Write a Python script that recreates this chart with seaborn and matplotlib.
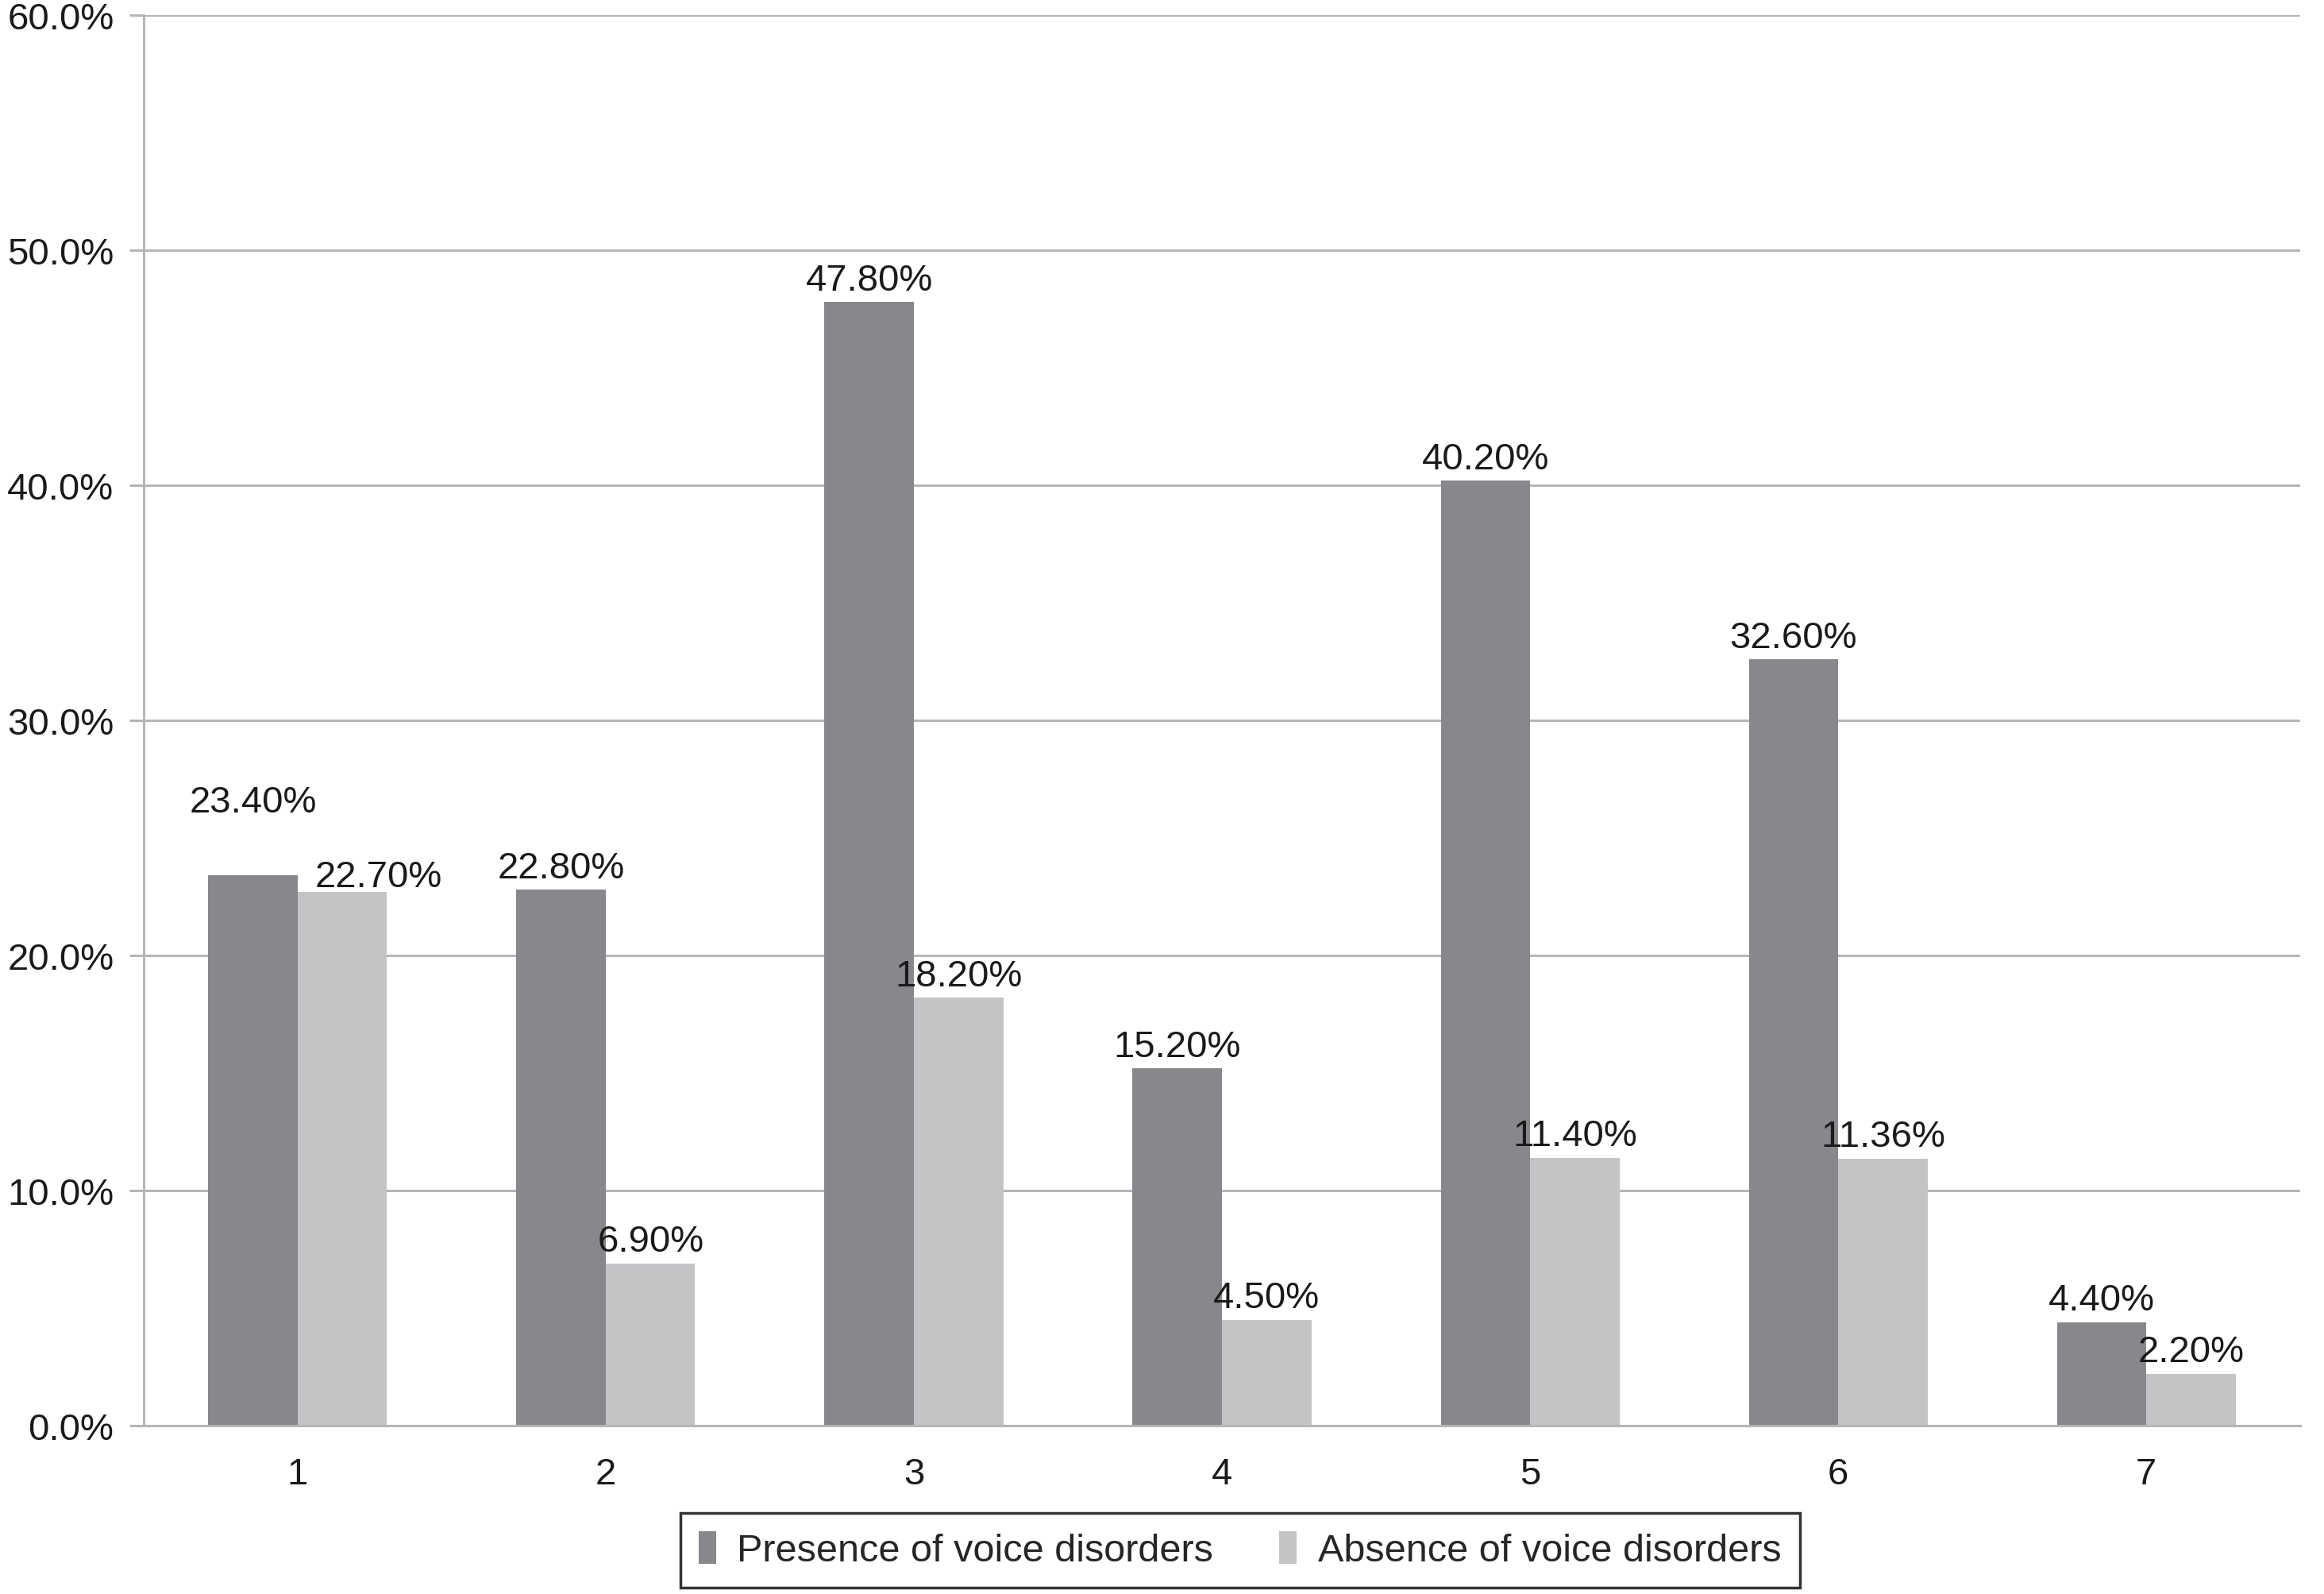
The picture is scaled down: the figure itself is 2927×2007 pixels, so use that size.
import numpy as np
import pandas as pd
import seaborn as sns
import matplotlib.pyplot as plt
from matplotlib.patches import Patch
from matplotlib.ticker import FuncFormatter

groups = ['1', '2', '3', '4', '5', '6', '7']
presence = [23.40, 22.80, 47.80, 15.20, 40.20, 32.60, 4.40]
absence = [22.70, 6.90, 18.20, 4.50, 11.40, 11.36, 2.20]
series_names = ['Presence of voice disorders', 'Absence of voice disorders']
y_ticks = [0, 10, 20, 30, 40, 50, 60]

dark = '#87888c'
light = '#c3c4c6'
grid_grey = '#b4b6b8'

df = pd.DataFrame({
    'group': groups * 2,
    'value': presence + absence,
    'series': [series_names[0]] * len(groups) + [series_names[1]] * len(groups),
})

sns.set_theme(style='white')
plt.rcParams['font.family'] = ['Liberation Sans', 'DejaVu Sans']

fig = plt.figure(figsize=(29.27, 20.08), dpi=100)
ax = fig.add_axes([0.0618, 0.1056, 0.928, 0.8844])

sns.barplot(data=df, x='group', y='value', hue='series', palette=[dark, light],
            width=0.58, gap=0, saturation=1, legend=False, ax=ax,
            edgecolor='none', linewidth=0)

# value labels; a couple are nudged like in the original
nudge = {(0, 0): (0, 51), (0, 1): (33, -2)}
for si, cont in enumerate(ax.containers):
    for gi, bar in enumerate(cont):
        val = bar.get_height()
        dx, dy = nudge.get((gi, si), (0, 4))
        ax.annotate('{:.2f}%'.format(val),
                    (bar.get_x() + bar.get_width() / 2, val),
                    xytext=(dx, dy), textcoords='offset points',
                    ha='center', va='bottom', fontsize=34, color='#1a1a1a')

ax.set_xlim(-0.5, len(groups) - 0.5)
ax.set_ylim(0, 60)
ax.set_yticks(y_ticks)
ax.yaxis.set_major_formatter(FuncFormatter(lambda v, p: '{:.1f}%'.format(v)))
ax.yaxis.grid(True, color=grid_grey, linewidth=2.2)
ax.set_axisbelow(True)

ax.set_xticks(np.arange(-0.5, len(groups), 1.0), minor=True)
ax.tick_params(axis='x', which='major', length=0, pad=28, labelsize=34, labelcolor='#1a1a1a')
ax.tick_params(axis='x', which='minor', length=14, width=2.2, color=grid_grey, direction='out')
ax.tick_params(axis='y', which='major', length=13, width=2.2, color=grid_grey, pad=14,
               labelsize=34, labelcolor='#1a1a1a', left=True)
ax.set_xlabel('')
ax.set_ylabel('')

for s in ['top', 'right']:
    ax.spines[s].set_visible(False)
for s in ['left', 'bottom']:
    ax.spines[s].set_color(grid_grey)
    ax.spines[s].set_linewidth(2.2)

handles = [Patch(facecolor=dark, edgecolor='none'), Patch(facecolor=light, edgecolor='none')]
leg = fig.legend(handles, series_names, loc='center', bbox_to_anchor=(0.5335, 0.0275),
                 ncol=2, fontsize=35, frameon=True, fancybox=False, edgecolor='black',
                 handlelength=0.45, handleheight=0.9, handletextpad=0.55,
                 columnspacing=1.7, borderpad=0.48)
leg.get_frame().set_linewidth(2.5)

fig.savefig('out.png', dpi=100)
